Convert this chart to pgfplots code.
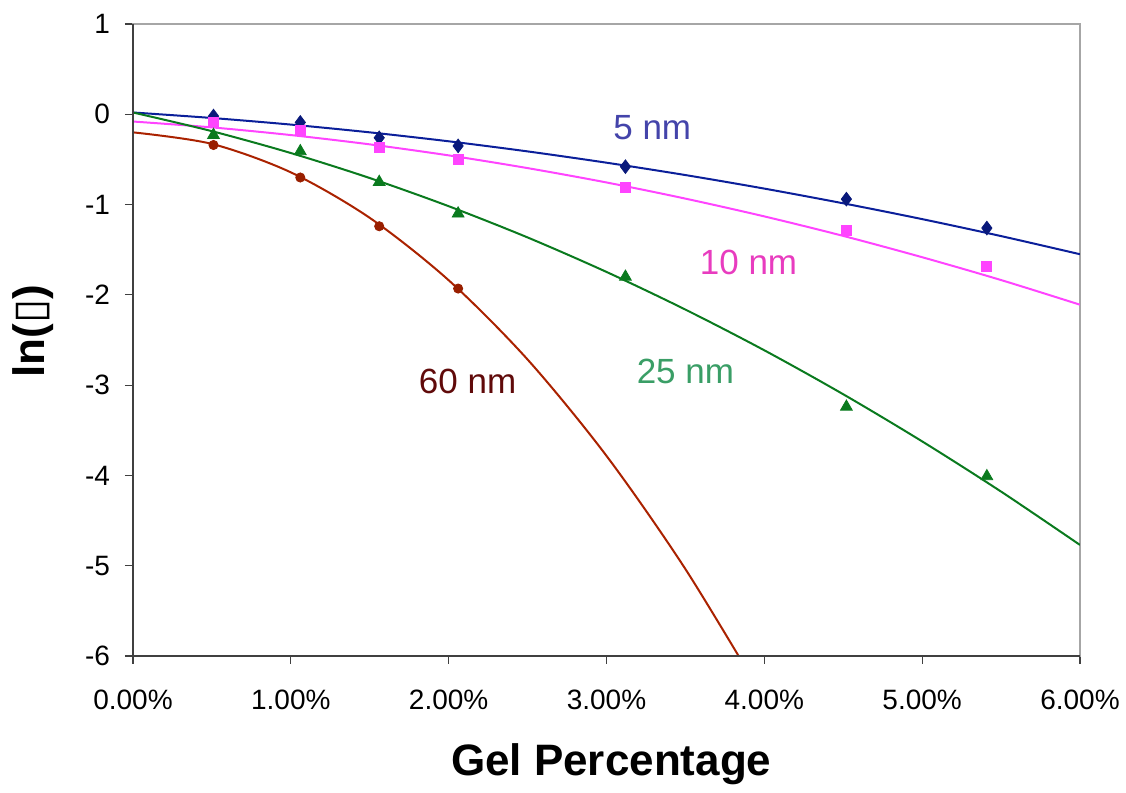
\documentclass[border=0pt]{standalone}
\usepackage{fontspec}
\setmainfont{Liberation Sans}
\newfontfamily\boxfont{DejaVu Sans}
\usepackage{pgfplots}
\pgfplotsset{compat=1.18}

\definecolor{nmfive}{HTML}{0B1F9A}
\definecolor{nmfivetxt}{HTML}{4444AA}
\definecolor{nmten}{HTML}{FF44FF}
\definecolor{nmtentxt}{HTML}{E83CBF}
\definecolor{nmtwentyfive}{HTML}{0A7A1E}
\definecolor{nmtwentyfivetxt}{HTML}{3A9E66}
\definecolor{nmsixty}{HTML}{AA2200}
\definecolor{nmsixtytxt}{HTML}{600A0A}

\begin{document}
\begin{tikzpicture}
\begin{axis}[
scale only axis,
width=473.5pt,height=316pt,
xmin=0,xmax=6,ymin=-6,ymax=1,
xtick={0,1,2,3,4,5,6},
xticklabels={0.00\%,1.00\%,2.00\%,3.00\%,4.00\%,5.00\%,6.00\%},
ytick={-6,-5,-4,-3,-2,-1,0,1},
yticklabels={-6,-5,-4,-3,-2,-1,0,1},
tick label style={font=\fontsize{14}{16}\selectfont},
xticklabel style={yshift=-9.5pt},
yticklabel style={xshift=-4pt},
xtick pos=bottom, ytick pos=left,
tick align=outside,
major tick length=4pt,
tick style={black!75,line width=0.6pt},
axis line style={black!35,line width=1pt},
clip mode=individual,
xlabel={Gel Percentage},
ylabel={ln({\boxfont ▯})},
label style={font=\fontsize{22}{26}\selectfont\bfseries},
xlabel style={at={(rel axis cs:0.505,-0.172)},anchor=center},
ylabel style={at={(rel axis cs:-0.105,0.514)},anchor=center,rotate=0},
]
% trend lines (quadratic fits)
\addplot[nmfive,line width=1pt,smooth] coordinates {
(0,0.02) (0.5,-0.041) (1,-0.114) (1.5,-0.200) (2,-0.299) (2.5,-0.411)
(3,-0.536) (3.5,-0.673) (4,-0.823) (4.5,-0.986) (5,-1.161) (5.5,-1.349) (6,-1.550)};
\addplot[nmten,line width=1pt,smooth] coordinates {
(0,-0.08) (0.5,-0.145) (1,-0.230) (1.5,-0.333) (2,-0.455) (2.5,-0.596)
(3,-0.755) (3.5,-0.934) (4,-1.131) (4.5,-1.347) (5,-1.583) (5.5,-1.836) (6,-2.109)};
\addplot[nmtwentyfive,line width=1pt,smooth] coordinates {
(0,0.02) (0.5,-0.187) (1,-0.429) (1.5,-0.706) (2,-1.018) (2.5,-1.364)
(3,-1.746) (3.5,-2.163) (4,-2.614) (4.5,-3.101) (5,-3.623) (5.5,-4.179) (6,-4.770)};
\addplot[nmsixty,line width=1pt,smooth] coordinates {
(0,-0.2) (0.5,-0.328) (1,-0.643) (1.5,-1.147) (2,-1.838) (2.5,-2.716)
(3,-3.783) (3.5,-5.037) (4,-6.478)};
% measured points
\addplot[only marks,mark=diamond*,mark size=3.4pt,color=nmfive!80!black] coordinates {
(0.51,-0.02) (1.06,-0.09) (1.56,-0.26) (2.06,-0.35) (3.12,-0.58) (4.52,-0.94) (5.41,-1.26)};
\addplot[only marks,mark=square*,mark size=2.5pt,color=nmten] coordinates {
(0.51,-0.09) (1.06,-0.18) (1.56,-0.37) (2.06,-0.50) (3.12,-0.81) (4.52,-1.29) (5.41,-1.69)};
\addplot[only marks,mark=triangle*,mark size=3.4pt,color=nmtwentyfive] coordinates {
(0.51,-0.23) (1.06,-0.41) (1.56,-0.75) (2.06,-1.10) (3.12,-1.80) (4.52,-3.24) (5.41,-4.01)};
\addplot[only marks,mark=*,mark size=2.3pt,color=nmsixty!90!black] coordinates {
(0.51,-0.34) (1.06,-0.70) (1.56,-1.24) (2.06,-1.93)};
% series names
\node[nmfivetxt,font=\fontsize{17.5}{20}\selectfont] at (axis cs:3.29,-0.15) {5 nm};
\node[nmtentxt,font=\fontsize{17.5}{20}\selectfont] at (axis cs:3.90,-1.64) {10 nm};
\node[nmtwentyfivetxt,font=\fontsize{17.5}{20}\selectfont] at (axis cs:3.50,-2.85) {25 nm};
\node[nmsixtytxt,font=\fontsize{17.5}{20}\selectfont] at (axis cs:2.12,-2.96) {60 nm};
% dark left and bottom axis lines
\draw[black!75,line width=1pt] (rel axis cs:0,1) -- (rel axis cs:0,0) -- (rel axis cs:1,0);
\end{axis}
\pgfresetboundingbox
\path (-66.5pt,-68.5pt) rectangle (496.5pt,328pt);
\end{tikzpicture}
\end{document}
